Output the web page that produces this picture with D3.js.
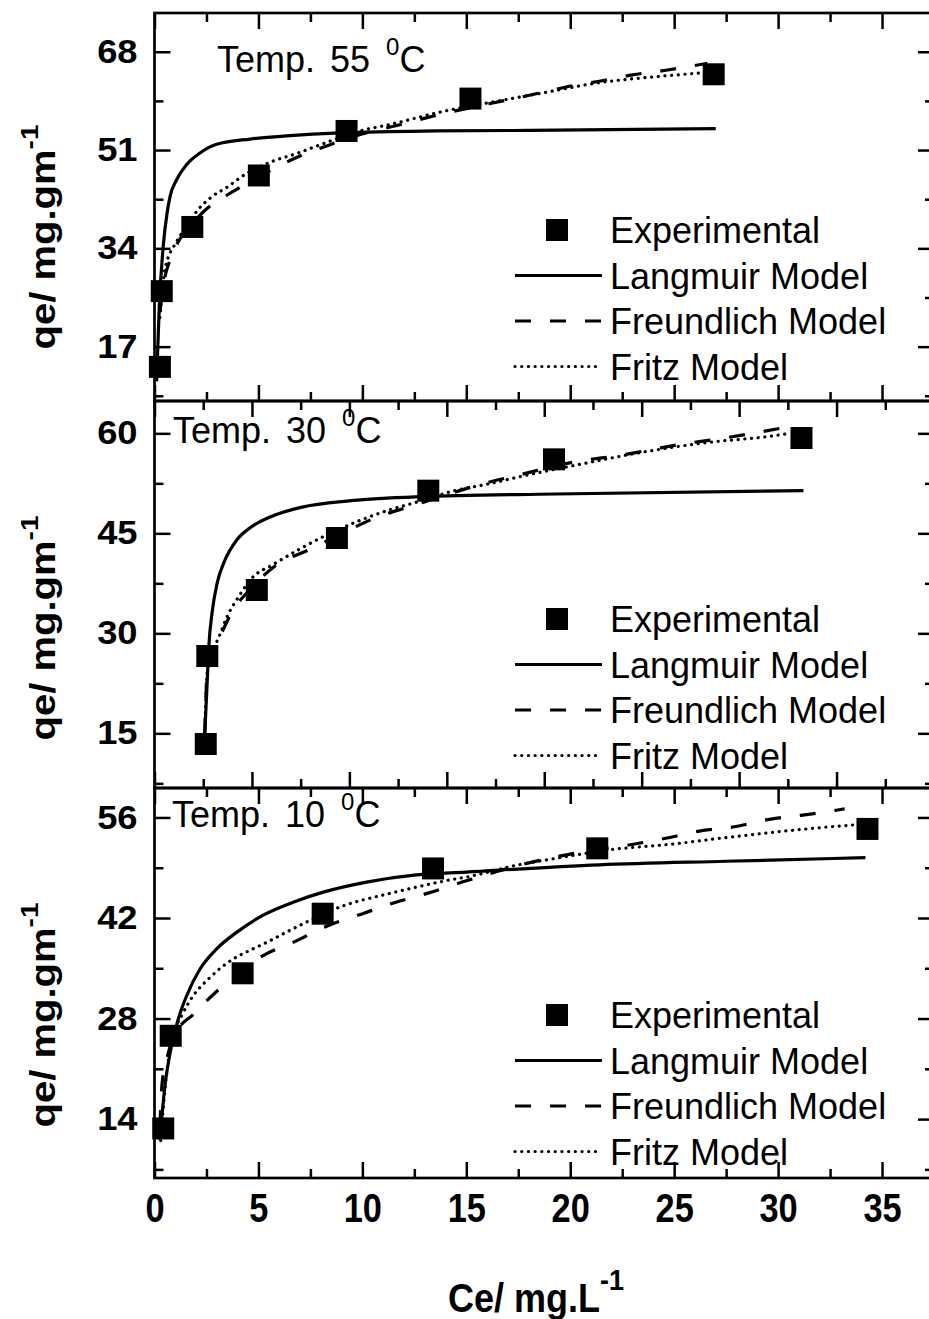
<!DOCTYPE html>
<html>
<head>
<meta charset="utf-8">
<script src="https://cdn.jsdelivr.net/npm/d3@7"></script>
<style>
body { margin: 0; background: #fff; }
text { font-family: "Liberation Sans", Arial, sans-serif; fill: #000; }
</style>
</head>
<body>
<svg width="929" height="1319"></svg>
<script>

var svg = d3.select("svg"),
    width = +svg.attr("width"),
    height = +svg.attr("height");

svg.append("rect").attr("width", width).attr("height", height).attr("fill", "#fff");

// Ce (mg/L) and qe (mg/g) readings, one set per temperature
var exp55Ce = [0.26, 0.35, 1.82, 5.02, 9.24, 15.2, 26.9];
var exp55Qe = [13.5, 26.6, 37.7, 46.6, 54.3, 59.9, 64.1];
var lang55 = [[0.1, 11], [0.23, 24], [0.42, 34.4], [0.6, 40], [0.75, 43], [1.07, 45.9], [1.55, 48.5],
  [2.19, 50.5], [2.99, 52], [4.6, 52.9], [6.2, 53.4], [9.24, 54.0], [13.5, 54.3], [18.05, 54.4], [27.0, 54.7]];
var freu55 = [[0.26, 23], [0.5, 29], [0.75, 32], [1.2, 35.5], [1.82, 38.3], [2.5, 40.8], [3.44, 43.1],
  [5.0, 46.3], [6.7, 49.5], [8.28, 51.7], [9.9, 53.7], [11.6, 55.2], [13.9, 57.3], [16.1, 59.0], [18.2, 60.6],
  [19.8, 61.9], [21.4, 62.9], [23.0, 64.0], [24.6, 64.8], [26.6, 66.0]];
var fritz55 = [[0.26, 22], [0.5, 30.3], [1.07, 35.2], [1.55, 37.8], [2.03, 40.4], [2.75, 42.9], [3.55, 44.7],
  [4.19, 46.4], [5.71, 49.1], [6.84, 50.4], [8.11, 52.1], [9.88, 54.3], [11.3, 55.4], [13.9, 57.7], [16.1, 59.2],
  [18.7, 60.9], [21.3, 62.6], [24.5, 63.8], [26.2, 64.3]];

var exp30Ce = [2.63, 2.71, 5.25, 9.36, 14.05, 20.5, 33.2];
var exp30Qe = [13.4, 26.6, 36.5, 44.3, 51.4, 56.1, 59.3];
var lang30 = [[2.58, 15], [2.71, 23.1], [2.79, 28.1], [2.96, 33.2], [3.22, 37.6], [3.56, 40.6], [4.25, 44.1],
  [4.94, 45.9], [5.97, 47.5], [7.52, 48.9], [10.1, 49.9], [13.6, 50.5], [20.6, 50.9], [33.3, 51.4]];
var freu30 = [[2.58, 15], [2.7, 24], [3.0, 27.5], [3.4, 29.8], [3.9, 32.8], [5.0, 36.9], [6.14, 40.0],
  [7.98, 42.6], [9.5, 44.8], [11.4, 47.4], [13.2, 49.1], [15.0, 50.8], [16.8, 52.4], [18.5, 53.6], [21.9, 55.9],
  [23.7, 56.6], [25.4, 57.5], [27.1, 58.4], [28.8, 59.1], [30.7, 60.0], [32.4, 60.9]];
var fritz30 = [[2.58, 15], [2.7, 24], [2.95, 27], [3.3, 29.4], [3.74, 32.6], [4.34, 35.6], [4.94, 38.1],
  [6.14, 40.4], [7.43, 42.6], [8.72, 44.6], [10.26, 46.6], [12.15, 48.6], [13.36, 49.6], [15.4, 51.4],
  [17.1, 52.4], [18.9, 53.6], [21.4, 55.1], [24.9, 57.1], [28.3, 58.6], [31.7, 59.6], [32.6, 60.0]];

var exp10Ce = [0.42, 0.78, 4.24, 8.09, 13.4, 21.3, 34.3];
var exp10Qe = [12.7, 25.6, 34.3, 42.6, 48.9, 51.7, 54.4];
var lang10 = [[0.26, 11.1], [0.5, 18.6], [0.75, 23.2], [1.14, 27.9], [1.55, 31.2], [2.19, 34.9], [2.99, 37.7],
  [3.95, 40.0], [5.23, 42.4], [6.67, 44.2], [8.12, 45.6], [10.2, 47.0], [12.6, 48.0], [15.0, 48.4],
  [21.4, 49.4], [27.5, 49.9], [34.2, 50.4]];
var freu10 = [[0.26, 13], [0.36, 18.8], [0.6, 22.5], [1.0, 25.8], [1.87, 28.6], [3.39, 32.8], [5.18, 36.7],
  [6.67, 38.6], [8.31, 40.9], [9.91, 42.5], [11.5, 44.1], [13.2, 45.5], [14.8, 47.0], [17.5, 49.3], [20.0, 50.9],
  [22.9, 52.2], [24.6, 53.1], [26.2, 54.1], [27.9, 54.7], [29.5, 55.7], [31.1, 56.3], [32.8, 57.0], [33.2, 57.2]];
var fritz10 = [[0.3, 11], [0.5, 18], [0.8, 24.5], [1.38, 28.8], [1.87, 31.2], [2.59, 33.5], [3.79, 36.3],
  [4.59, 37.5], [5.39, 38.6], [6.19, 39.8], [7.15, 41.2], [8.28, 42.8], [9.4, 44.0], [11.0, 45.2], [12.6, 46.3],
  [14.2, 47.3], [15.0, 47.7], [17.5, 49.4], [19.5, 50.4], [21.9, 51.5], [24.6, 52.2], [27.8, 53.3], [31.0, 54.3],
  [33.8, 55.0]];

// tick values
var xTicks = [0, 5, 10, 15, 20, 25, 30, 35];
var xMinor = [2.5, 7.5, 12.5, 17.5, 22.5, 27.5, 32.5];
var xTicks30 = [0, 5, 10, 15, 20, 25, 30, 35, 40];
var xMinor30 = [2.5, 7.5, 12.5, 17.5, 22.5, 27.5, 32.5, 37.5];
var yTicks55 = [17, 34, 51, 68], yMinor55 = [8.5, 25.5, 42.5, 59.5];
var yTicks30 = [15, 30, 45, 60], yMinor30 = [7.5, 22.5, 37.5, 52.5];
var yTicks10 = [14, 28, 42, 56], yMinor10 = [7, 21, 35, 49];

var legendLabels = ["Experimental", "Langmuir Model", "Freundlich Model", "Fritz Model"];

var left = 154.5, right = 934;

var panels = [
  {temp: "55", xDomain: [0, 37.5], xTicks: xTicks, xMinor: xMinor,
   yDomain: [7.6, 74.7], yTicks: yTicks55, yMinor: yMinor55, top: 13, bottom: 401,
   ce: exp55Ce, qe: exp55Qe, lang: lang55, freu: freu55, fritz: fritz55,
   titleX: 217, titleY: 72, legendY: 230, yTitleY: 237},
  {temp: "30", xDomain: [0, 40], xTicks: xTicks30, xMinor: xMinor30,
   yDomain: [6.8, 64.85], yTicks: yTicks30, yMinor: yMinor30, top: 401, bottom: 788,
   ce: exp30Ce, qe: exp30Qe, lang: lang30, freu: freu30, fritz: fritz30,
   titleX: 173, titleY: 443, legendY: 619, yTitleY: 628},
  {temp: "10", xDomain: [0, 37.5], xTicks: xTicks, xMinor: xMinor,
   yDomain: [5.8, 60.1], yTicks: yTicks10, yMinor: yMinor10, top: 788, bottom: 1178,
   ce: exp10Ce, qe: exp10Qe, lang: lang10, freu: freu10, fritz: fritz10,
   titleX: 172, titleY: 827, legendY: 1015, yTitleY: 1015, xLabels: true}
];

var styles = {
  lang: {dash: null},
  freu: {dash: "16,19", cap: "butt"},
  fritz: {dash: "0.1,6.6", cap: "round"}
};

function tickRow(g, axis, tx, ty, values, size) {
  var a = g.append("g")
    .attr("transform", "translate(" + tx + "," + ty + ")")
    .call(axis.tickValues(values).tickSize(-size).tickFormat(""));
  a.select(".domain").remove();
  a.selectAll("line").attr("stroke", "#000").attr("stroke-width", 2.5);
  return a;
}

function styleLine(sel, key) {
  sel.attr("fill", "none")
    .attr("stroke", "#000")
    .attr("stroke-width", 3.2)
    .attr("stroke-dasharray", styles[key].dash)
    .attr("stroke-linecap", styles[key].cap || "butt");
}

function drawPanel(p) {
  var x = d3.scaleLinear().domain(p.xDomain).range([left, right]),
      y = d3.scaleLinear().domain(p.yDomain).range([p.bottom, p.top]);
  var g = svg.append("g");

  // inward ticks on all four sides
  [[p.xTicks, 16], [p.xMinor, 9]].forEach(function(t) {
    tickRow(g, d3.axisBottom(x), 0, p.bottom, t[0], t[1]);
    tickRow(g, d3.axisTop(x), 0, p.top, t[0], t[1]);
  });
  [[p.yTicks, 16], [p.yMinor, 9]].forEach(function(t) {
    tickRow(g, d3.axisLeft(y), left, 0, t[0], t[1]);
    tickRow(g, d3.axisRight(y), right, 0, t[0], t[1]);
  });

  // y tick labels
  var ya = g.append("g")
    .attr("transform", "translate(" + left + ",0)")
    .call(d3.axisLeft(y).tickValues(p.yTicks).tickSize(0).tickPadding(17));
  ya.select(".domain").remove();
  ya.attr("font-family", null).attr("font-size", 33).attr("font-weight", "bold");
  ya.selectAll("text").attr("x", -17 / 1.1).attr("transform", "scale(1.1,1)");

  if (p.xLabels) {
    var xa = g.append("g")
      .attr("transform", "translate(0," + p.bottom + ")")
      .call(d3.axisBottom(x).tickValues(p.xTicks).tickSize(0).tickPadding(16));
    xa.select(".domain").remove();
    xa.attr("font-family", null).attr("font-size", 40).attr("font-weight", "bold");
    xa.selectAll("text").attr("transform", "scale(0.86,1)");
  }

  // frame
  g.append("rect")
    .attr("x", left).attr("y", p.top)
    .attr("width", right - left).attr("height", p.bottom - p.top)
    .attr("fill", "none").attr("stroke", "#000").attr("stroke-width", 2.7);

  // model curves
  var line = d3.line()
    .x(function(d) { return x(d[0]); })
    .y(function(d) { return y(d[1]); })
    .curve(d3.curveMonotoneX);
  ["lang", "freu", "fritz"].forEach(function(key) {
    g.append("path").datum(p[key]).attr("d", line).call(styleLine, key);
  });

  // experimental points
  var square = d3.symbol().type(d3.symbolSquare).size(484);
  g.selectAll(".pt")
    .data(p.ce.map(function(c, i) { return [c, p.qe[i]]; }))
    .enter().append("path")
    .attr("d", square)
    .attr("transform", function(d) { return "translate(" + x(d[0]) + "," + y(d[1]) + ")"; })
    .attr("fill", "#000");

  // temperature label
  var t = g.append("text")
    .attr("x", p.titleX).attr("y", p.titleY)
    .attr("font-size", 36);
  t.append("tspan").text("Temp. ");
  t.append("tspan").attr("dx", 5).text(p.temp + " ");
  t.append("tspan").attr("dx", 6).attr("dy", -17).attr("font-size", 24).text("0");
  t.append("tspan").attr("dy", 17).text("C");

  // legend
  var lg = g.append("g");
  legendLabels.forEach(function(label, i) {
    var ly = p.legendY + i * 45.5;
    if (i === 0) {
      lg.append("path").attr("d", square).attr("transform", "translate(557," + ly + ")").attr("fill", "#000");
    } else {
      lg.append("path")
        .attr("d", "M515," + ly + "H602")
        .call(styleLine, ["lang", "freu", "fritz"][i - 1]);
    }
    lg.append("text").attr("x", 610).attr("y", ly + 13).attr("font-size", 36).text(label);
  });

  // y axis title
  var yt = g.append("text")
    .attr("transform", "translate(55," + p.yTitleY + ") scale(0.87,1) rotate(-90)")
    .attr("text-anchor", "middle")
    .attr("font-size", 40).attr("font-weight", "bold");
  yt.append("tspan").text("qe/ mg.gm");
  yt.append("tspan").attr("dy", -20).attr("font-size", 28).text("-1");
}

panels.forEach(drawPanel);

// x axis title
var xt = svg.append("text")
  .attr("transform", "translate(536,1312) scale(0.9,1)")
  .attr("text-anchor", "middle")
  .attr("font-size", 40).attr("font-weight", "bold");
xt.append("tspan").text("Ce/ mg.L");
xt.append("tspan").attr("dy", -22).attr("font-size", 30).text("-1");

</script>
</body>
</html>
